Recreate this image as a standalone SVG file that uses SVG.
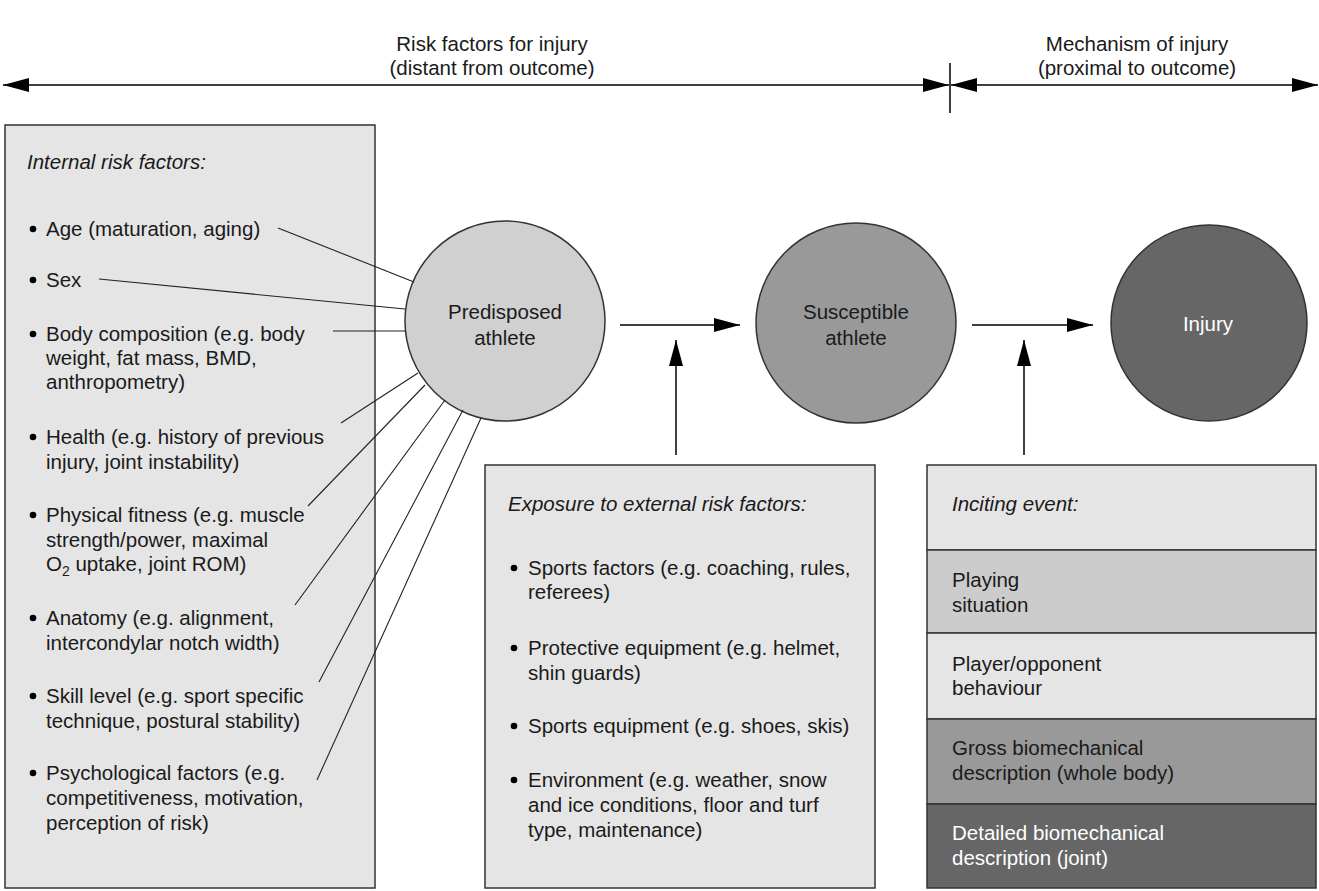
<svg xmlns="http://www.w3.org/2000/svg" width="1319" height="891" viewBox="0 0 1319 891">
<defs>
<marker id="ah" markerUnits="userSpaceOnUse" markerWidth="26" markerHeight="14" viewBox="0 0 26 14" refX="26" refY="7" orient="auto-start-reverse">
<path d="M0,0 L26,7 L0,14 z" fill="#000"/>
</marker>
<style>
text{font-family:"Liberation Sans",Arial,sans-serif;font-size:20.5px;fill:#1a1a1a}
.it{font-style:italic}
.c{text-anchor:middle}
.w{fill:#ffffff}
.box{fill:#e5e5e5;stroke:#333;stroke-width:1.5}
.circ{stroke:#333;stroke-width:1.5}
.ln{stroke:#000;stroke-width:1.5;fill:none}
.thin{stroke:#222;stroke-width:1.1;fill:none}
.ar{stroke:#000;stroke-width:1.5;fill:none;marker-end:url(#ah)}
</style>
</defs>
<rect width="1319" height="891" fill="#fff"/>

<g id="header">
<text class="c" x="492" y="51">Risk factors for injury</text>
<text class="c" x="492" y="75">(distant from outcome)</text>
<text class="c" x="1137" y="51">Mechanism of injury</text>
<text class="c" x="1137" y="75">(proximal to outcome)</text>
</g>

<g id="internal-risk-factors">
<rect class="box" x="5" y="125" width="370" height="763"/>
<text class="it" x="27" y="169">Internal risk factors:</text>
<g fill="#000">
<circle cx="33" cy="229" r="3.3"/><circle cx="33" cy="280" r="3.3"/><circle cx="33" cy="334" r="3.3"/>
<circle cx="33" cy="437" r="3.3"/><circle cx="33" cy="515" r="3.3"/><circle cx="33" cy="618" r="3.3"/>
<circle cx="33" cy="696" r="3.3"/><circle cx="33" cy="773" r="3.3"/>
</g>
<text x="46" y="236">Age (maturation, aging)</text>
<text x="46" y="287">Sex</text>
<text x="46" y="341">Body composition (e.g. body</text>
<text x="46" y="365">weight, fat mass, BMD,</text>
<text x="46" y="389">anthropometry)</text>
<text x="46" y="444">Health (e.g. history of previous</text>
<text x="46" y="469">injury, joint instability)</text>
<text x="46" y="522">Physical fitness (e.g. muscle</text>
<text x="46" y="547">strength/power, maximal</text>
<text x="46" y="571">O<tspan font-size="14" dy="5">2</tspan><tspan dy="-5"> uptake, joint ROM)</tspan></text>
<text x="46" y="625">Anatomy (e.g. alignment,</text>
<text x="46" y="650">intercondylar notch width)</text>
<text x="46" y="703">Skill level (e.g. sport specific</text>
<text x="46" y="728">technique, postural stability)</text>
<text x="46" y="780">Psychological factors (e.g.</text>
<text x="46" y="805">competitiveness, motivation,</text>
<text x="46" y="830">perception of risk)</text>
</g>

<g id="predisposed-athlete">
<circle class="circ" cx="505" cy="321" r="100" fill="#d0d0d0"/>
<text class="c" x="505" y="319">Predisposed</text>
<text class="c" x="505" y="345">athlete</text>
</g>

<g id="susceptible-athlete">
<circle class="circ" cx="856" cy="323" r="100" fill="#999999"/>
<text class="c" x="856" y="319">Susceptible</text>
<text class="c" x="856" y="345">athlete</text>
</g>

<g id="injury">
<circle class="circ" cx="1209" cy="323" r="98" fill="#666666"/>
<text class="c w" x="1208" y="331">Injury</text>
</g>

<g id="external-risk-factors">
<rect class="box" x="485" y="465" width="390" height="423"/>
<text class="it" x="508" y="511">Exposure to external risk factors:</text>
<g fill="#000">
<circle cx="514" cy="568" r="3.3"/><circle cx="514" cy="648" r="3.3"/>
<circle cx="514" cy="726" r="3.3"/><circle cx="514" cy="780" r="3.3"/>
</g>
<text x="528" y="575">Sports factors (e.g. coaching, rules,</text>
<text x="528" y="599">referees)</text>
<text x="528" y="655">Protective equipment (e.g. helmet,</text>
<text x="528" y="680">shin guards)</text>
<text x="528" y="733">Sports equipment (e.g. shoes, skis)</text>
<text x="528" y="787">Environment (e.g. weather, snow</text>
<text x="528" y="812">and ice conditions, floor and turf</text>
<text x="528" y="837">type, maintenance)</text>
</g>

<g id="inciting-event">
<rect x="927" y="465" width="389" height="85" fill="#e5e5e5" stroke="#333" stroke-width="1.5"/>
<rect x="927" y="550" width="389" height="83" fill="#cccccc" stroke="#333" stroke-width="1.5"/>
<rect x="927" y="633" width="389" height="86" fill="#e5e5e5" stroke="#333" stroke-width="1.5"/>
<rect x="927" y="719" width="389" height="85" fill="#999999" stroke="#333" stroke-width="1.5"/>
<rect x="927" y="804" width="389" height="84" fill="#666666" stroke="#333" stroke-width="1.5"/>
<text class="it" x="952" y="511">Inciting event:</text>
<text x="952" y="587">Playing</text>
<text x="952" y="612">situation</text>
<text x="952" y="671">Player/opponent</text>
<text x="952" y="695">behaviour</text>
<text x="952" y="755">Gross biomechanical</text>
<text x="952" y="780">description (whole body)</text>
<text class="w" x="952" y="840">Detailed biomechanical</text>
<text class="w" x="952" y="865">description (joint)</text>
</g>

<g id="connectors">
<line class="ln" x1="3" y1="85" x2="949" y2="85" marker-start="url(#ah)" marker-end="url(#ah)"/>
<line class="ln" x1="951" y1="85" x2="1318" y2="85" marker-start="url(#ah)" marker-end="url(#ah)"/>
<line class="ln" x1="950" y1="63" x2="950" y2="113"/>
<line class="ar" x1="620" y1="325" x2="740" y2="325"/>
<line class="ar" x1="972" y1="325" x2="1093" y2="325"/>
<line class="ar" x1="676" y1="455" x2="676" y2="340"/>
<line class="ar" x1="1024" y1="455" x2="1024" y2="340"/>
<line class="thin" x1="278" y1="228" x2="414" y2="282"/>
<line class="thin" x1="99" y1="279" x2="405" y2="309"/>
<line class="thin" x1="333" y1="331" x2="405" y2="331"/>
<line class="thin" x1="341" y1="423" x2="418" y2="373"/>
<line class="thin" x1="308" y1="506" x2="425" y2="385"/>
<line class="thin" x1="295" y1="605" x2="445" y2="400"/>
<line class="thin" x1="319" y1="682" x2="463" y2="410"/>
<line class="thin" x1="317" y1="780" x2="481" y2="418"/>
</g>
</svg>
